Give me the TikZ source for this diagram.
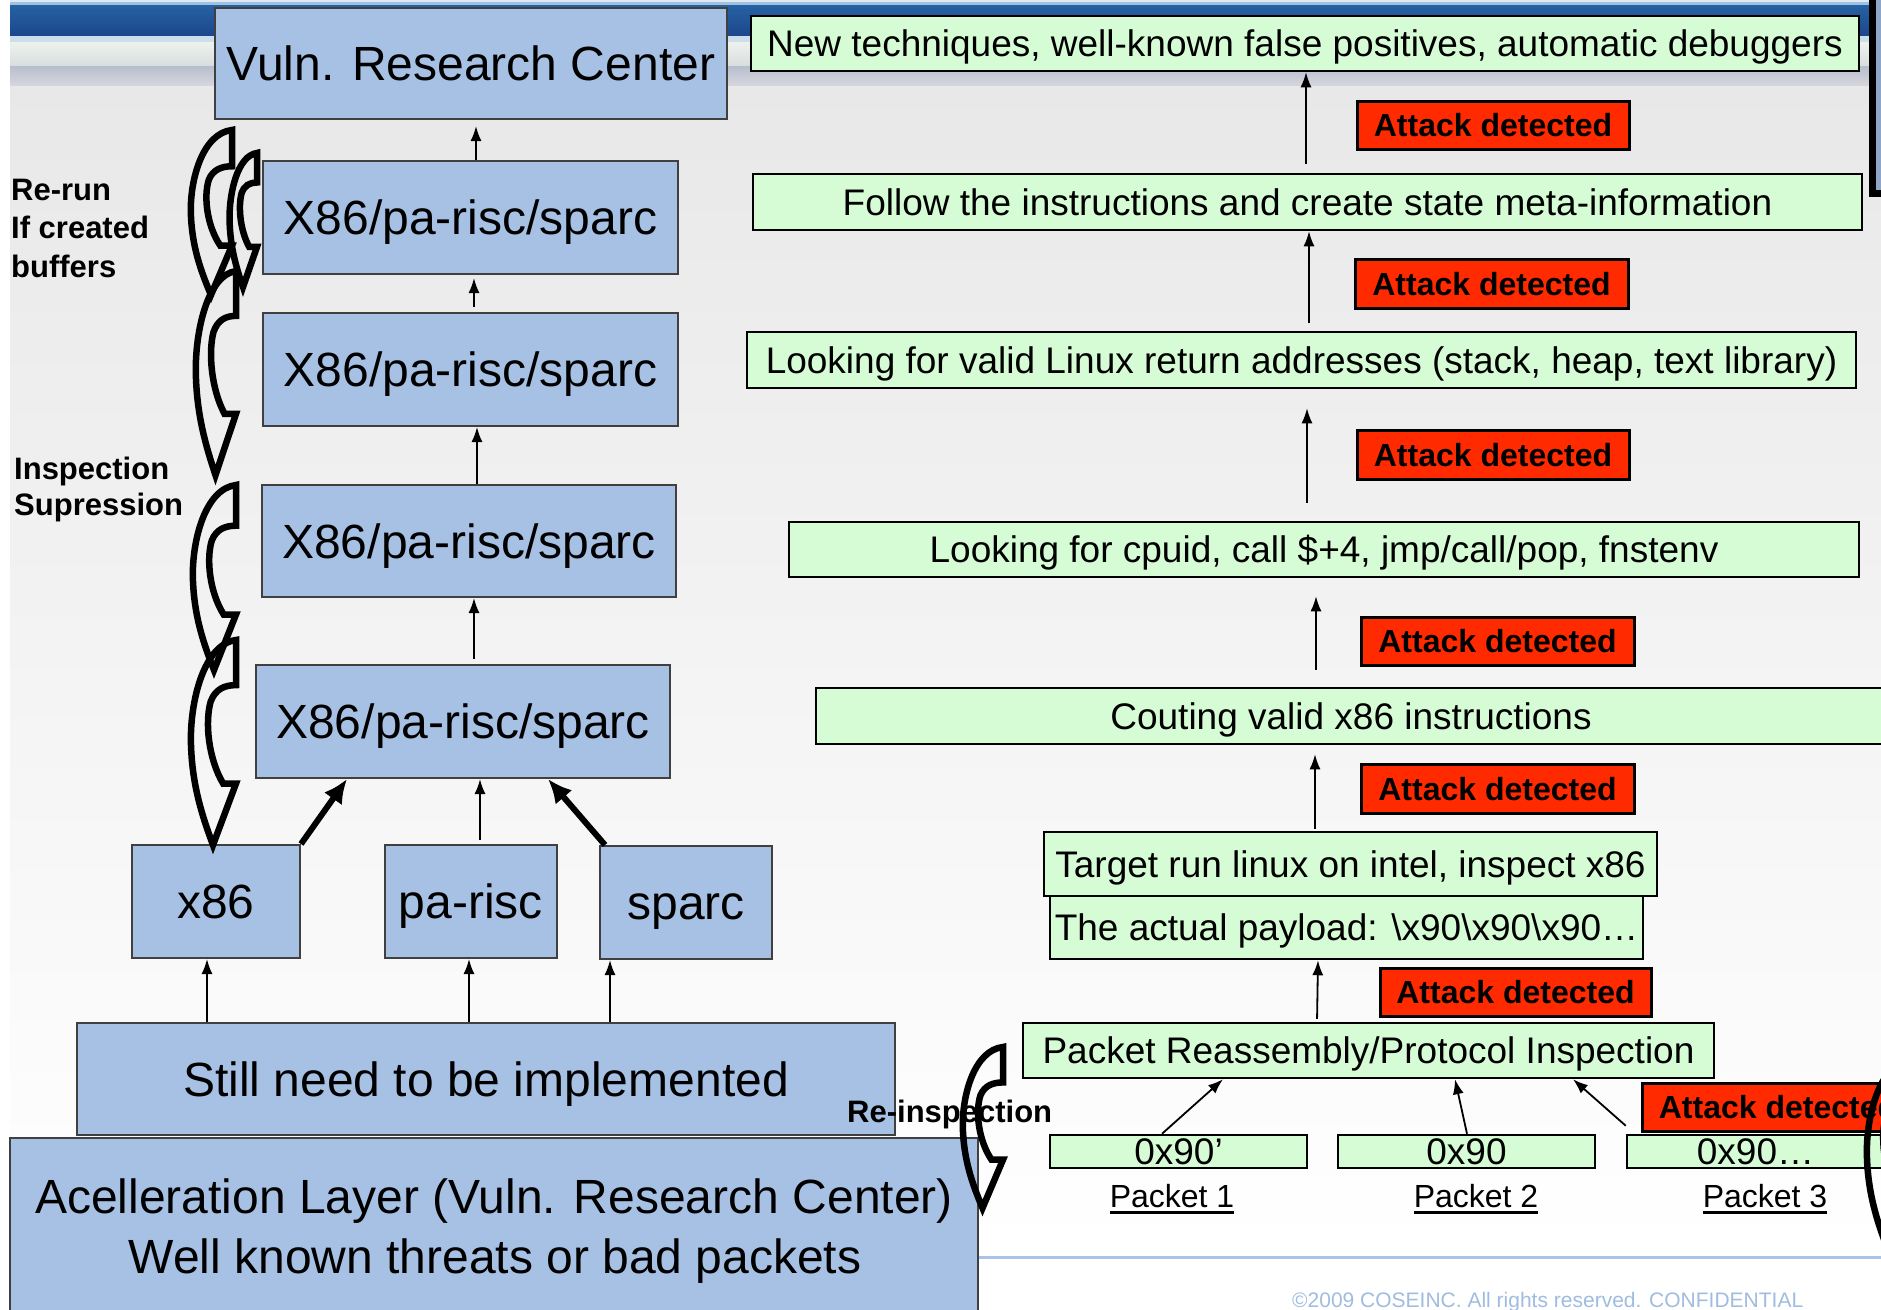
\documentclass[tikz,border=0pt]{standalone}
\usepackage{fontspec}
\setmainfont{Liberation Sans}
\usetikzlibrary{arrows.meta,calc}

\definecolor{boxblue}{RGB}{167,193,228}
\definecolor{boxgreen}{RGB}{214,252,214}
\definecolor{alertred}{RGB}{255,42,0}
\definecolor{framefill}{RGB}{143,166,199}
\definecolor{copyblue}{RGB}{160,188,225}
\definecolor{ruleblue}{RGB}{168,196,232}
\definecolor{bandtop}{RGB}{38,98,163}
\definecolor{bandbot}{RGB}{28,70,140}
\definecolor{bandedge}{RGB}{223,234,245}
\definecolor{bandline}{RGB}{159,194,224}
\definecolor{bandlight}{RGB}{204,222,236}
\definecolor{mistA}{RGB}{238,242,238}
\definecolor{mistB}{RGB}{216,222,222}
\definecolor{waveA}{RGB}{182,190,206}
\definecolor{waveB}{RGB}{214,214,220}
\definecolor{slidetop}{RGB}{232,232,232}

% curved block arrow outline: left x, top y, width, height
\newcommand{\bentarrow}[4]{%
  \begin{scope}[shift={(#1,#2)}, xscale=#3, yscale=#4]
    \draw[bentline] (1,0) .. controls (0.3,0.02) and (0,0.3) .. (0.02,0.5)
      .. controls (0.04,0.7) and (0.25,0.85) .. (0.5,1)
      -- (1,0.7) -- (0.72,0.7)
      .. controls (0.4,0.58) and (0.32,0.4) .. (0.45,0.3)
      .. controls (0.55,0.24) and (0.75,0.22) .. (1,0.22) -- cycle;
  \end{scope}}

\tikzset{
  bluebox/.style={draw=black!75, line width=2pt, fill=boxblue, inner sep=0pt,
    text height=34.5pt, text depth=0pt, font=\fontsize{48}{58}\selectfont},
  greenbox/.style={draw=black, line width=2.5pt, fill=boxgreen, inner sep=0pt,
    text height=26.6pt, text depth=0pt, font=\fontsize{37}{44}\selectfont},
  alertbox/.style={draw=black, line width=3pt, fill=alertred, inner sep=0pt,
    text height=23pt, text depth=0pt, font=\bfseries\fontsize{32}{38}\selectfont},
  sidelabel/.style={anchor=base west, inner sep=0pt, font=\bfseries\fontsize{31}{37}\selectfont},
  pktlabel/.style={anchor=base, inner sep=0pt, font=\fontsize{32}{38}\selectfont},
  bigtext/.style={anchor=base, inner sep=0pt, font=\fontsize{48}{58}\selectfont},
  thinarrow/.style={line width=1.8pt, -{Latex[length=15pt,width=11pt]}},
  thickarrow/.style={line width=6pt, -{Latex[length=24pt,width=22pt]}},
  bentline/.style={draw=black, line width=6.5pt, line join=miter, miter limit=4},
}

\begin{document}
\begin{tikzpicture}[x=1pt,y=-1pt]
\useasboundingbox (0,0) rectangle (1881,1309);
\clip (0,0) rectangle (1881,1309);

% slide backdrop
\fill[white] (0,0) rectangle (1881,1309);
\shade[top color=slidetop, bottom color=white] (10,84) rectangle (1881,1250);

% header band
\fill[bandedge] (10,0) rectangle (1881,2);
\fill[bandline] (10,2) rectangle (1881,5);
\shade[top color=bandtop, bottom color=bandbot] (10,5) rectangle (1881,36);
\fill[bandlight] (10,36) rectangle (1881,42);
\shade[top color=mistA, bottom color=mistB] (10,42) rectangle (1881,66);
\shade[top color=waveA, bottom color=waveB] (10,66) rectangle (1881,85);

% footer rule and notice
\draw[ruleblue, line width=3pt] (978,1257) -- (1881,1257);
\node[anchor=base west, inner sep=0pt, text=copyblue, font=\fontsize{21}{25}\selectfont]
  (notice) at (1292,1307) {©2009 COSEINC. All rights reserved. CONFIDENTIAL};

% frame at the right edge
\draw[line width=7pt, fill=framefill] (1872,-20) rectangle (1960,193.5);

% left stack
\node[bluebox, minimum width=512pt, minimum height=111pt] (vuln) at (471,63.5) {Vuln. Research Center};
\node[bluebox, minimum width=415pt, minimum height=113pt] (x1) at (470.5,217.5) {X86/pa-risc/sparc};
\node[bluebox, minimum width=415pt, minimum height=113pt] (x2) at (470.5,369.5) {X86/pa-risc/sparc};
\node[bluebox, minimum width=414pt, minimum height=112pt] (x3) at (469,541) {X86/pa-risc/sparc};
\node[bluebox, minimum width=414pt, minimum height=113pt] (x4) at (463,721.5) {X86/pa-risc/sparc};
\node[bluebox, minimum width=168pt, minimum height=113pt] (x86) at (216,901.5) {x86};
\node[bluebox, minimum width=172pt, minimum height=113pt] (parisc) at (471,901.5) {pa-risc};
\node[bluebox, minimum width=172pt, minimum height=113pt] (sparc) at (686,902.5) {sparc};
\node[bluebox, minimum width=818pt, minimum height=112pt] (still) at (486,1079) {Still need to be implemented};
\node[bluebox, minimum width=968pt, minimum height=200pt] (accel) at (494,1238) {};
\node[bigtext] (accel1) at (494,1213) {Acelleration Layer (Vuln. Research Center)};
\node[bigtext] (accel2) at (495,1273) {Well known threats or bad packets};

\draw[thinarrow, shorten >=6pt] ([xshift=5.5pt]x1.north) -- ([xshift=5pt]vuln.south);
\draw[thinarrow, shorten <=5pt, shorten >=3pt] ([xshift=3.5pt]x2.north) -- ([xshift=3.5pt]x1.south);
\draw[thinarrow] ([xshift=8pt]x3.north) -- ([xshift=6.5pt]x2.south);
\draw[thinarrow, shorten <=5pt] ([xshift=11pt]x4.north) -- ([xshift=5pt]x3.south);
\draw[thickarrow] (x86.north east) -- ([xshift=-116pt]x4.south);
\draw[thinarrow, shorten <=4pt] ([xshift=9pt]parisc.north) -- ([xshift=17pt]x4.south);
\draw[thickarrow] ([xshift=6pt]sparc.north west) -- ([xshift=85pt]x4.south);
\draw[thinarrow] ([xshift=-279pt]still.north) -- ([xshift=-9pt]x86.south);
\draw[thinarrow] ([xshift=-17pt]still.north) -- ([xshift=-2pt]parisc.south);
\draw[thinarrow] ([xshift=124pt]still.north) -- ([xshift=-76pt]sparc.south);

% right stack
\node[greenbox, minimum width=1108pt, minimum height=55pt] (r1) at (1305,43.5) {New techniques, well-known false positives, automatic debuggers};
\node[greenbox, minimum width=1109pt, minimum height=56pt] (r2) at (1307.5,202) {Follow the instructions and create state meta-information};
\node[greenbox, minimum width=1109pt, minimum height=56pt] (r3) at (1301.5,360) {Looking for valid Linux return addresses (stack, heap, text library)};
\node[greenbox, minimum width=1070pt, minimum height=55pt] (r4) at (1324,549.5) {Looking for cpuid, call \$+4, jmp/call/pop, fnstenv};
\node[greenbox, minimum width=1070pt, minimum height=56pt] (r5) at (1351,716) {Couting valid x86 instructions};
\node[greenbox, minimum width=613pt, minimum height=64pt] (r6) at (1350.5,864) {Target run linux on intel, inspect x86};
\node[greenbox, minimum width=593pt, minimum height=63pt] (r7) at (1346.5,927.5) {The actual payload: \textbackslash x90\textbackslash x90\textbackslash x90…};
\node[greenbox, minimum width=691pt, minimum height=55pt] (r8) at (1368.5,1050.5) {Packet Reassembly/Protocol Inspection};
\node[greenbox, minimum width=257pt, minimum height=33pt] (p1) at (1178.5,1151.5) {0x90’};
\node[greenbox, minimum width=257pt, minimum height=33pt] (p2) at (1466.5,1151.5) {0x90};
\node[greenbox, minimum width=257pt, minimum height=33pt] (p3) at (1755.5,1151.5) {0x90…};

\node[alertbox, minimum width=272pt, minimum height=48pt] (a1) at (1493,125) {Attack detected};
\node[alertbox, minimum width=273pt, minimum height=49pt] (a2) at (1491.5,283.5) {Attack detected};
\node[alertbox, minimum width=272pt, minimum height=49pt] (a3) at (1493,454.5) {Attack detected};
\node[alertbox, minimum width=273pt, minimum height=48pt] (a4) at (1497.5,641) {Attack detected};
\node[alertbox, minimum width=273pt, minimum height=49pt] (a5) at (1497.5,788.5) {Attack detected};
\node[alertbox, minimum width=271pt, minimum height=48pt] (a6) at (1515.5,992) {Attack detected};
\node[alertbox, minimum width=272pt, minimum height=48pt] (a7) at (1778,1107) {Attack detected};

\draw[thinarrow, shorten <=9pt] ([xshift=-1.5pt]r2.north) -- ([xshift=1pt]r1.south);
\draw[thinarrow, shorten <=8pt] ([xshift=7.5pt]r3.north) -- ([xshift=1.5pt]r2.south);
\draw[thinarrow, shorten <=18pt, shorten >=19pt] ([xshift=-17pt]r4.north) -- ([xshift=5.5pt]r3.south);
\draw[thinarrow, shorten <=17pt, shorten >=18pt] ([xshift=-35pt]r5.north) -- ([xshift=-8pt]r4.south);
\draw[thinarrow, shorten <=2pt, shorten >=9pt] ([xshift=-35.5pt]r6.north) -- ([xshift=-36pt]r5.south);
\draw[thinarrow, shorten <=3pt] ([xshift=-51.5pt]r8.north) -- ([xshift=-28.5pt]r7.south);
\draw[thinarrow] ([xshift=-16.5pt]p1.north) -- ([xshift=-145.5pt]r8.south);
\draw[thinarrow] ([xshift=0.5pt]p2.north) -- ([xshift=86.5pt]r8.south);
\draw[thinarrow] ([yshift=8pt]p3.north west) -- ([xshift=204.5pt]r8.south);

% packet captions
\node[pktlabel] (pl1) at (1172,1207) {Packet 1};
\node[pktlabel] (pl2) at (1476,1207) {Packet 2};
\node[pktlabel] (pl3) at (1765,1207) {Packet 3};
\foreach \p in {pl1,pl2,pl3}
  \draw[line width=3pt] ($(\p.base west)+(0,5)$) -- ($(\p.base east)+(0,5)$);

% side notes
\node[sidelabel] (rerun1) at (11,200) {Re-run};
\node[sidelabel] (rerun2) at (11,238) {If created};
\node[sidelabel] (rerun3) at (11,277) {buffers};
\node[sidelabel] (supp1) at (14,479) {Inspection};
\node[sidelabel] (supp2) at (14,515) {Supression};
\node[sidelabel] (reinsp) at (847,1122) {Re-inspection};

% looping outline arrows
\bentarrow{190}{130}{42}{165}
\bentarrow{229}{153}{28}{134}
\bentarrow{195}{271}{41}{204}
\bentarrow{192}{485}{44}{185}
\bentarrow{190}{640}{46}{205}
\bentarrow{962}{1047}{41}{161}
\bentarrow{1866}{1060}{44}{190}
\end{tikzpicture}
\end{document}
